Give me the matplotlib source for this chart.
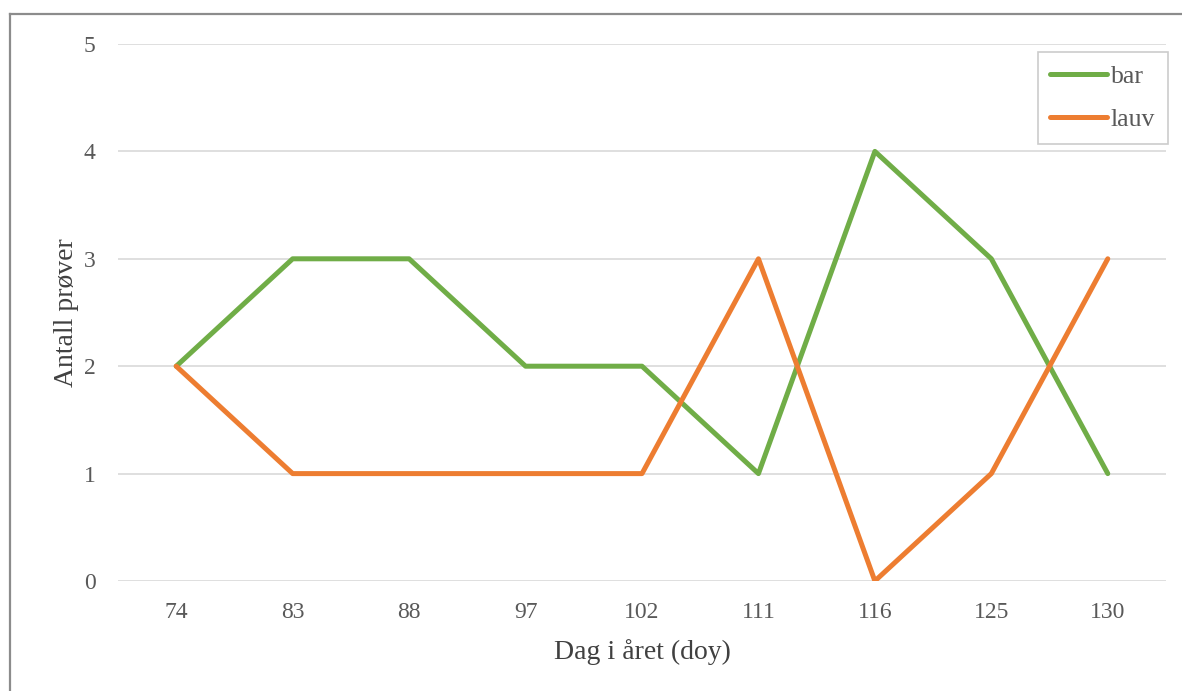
import matplotlib.pyplot as plt
from matplotlib.lines import Line2D

plt.rcParams['font.family'] = ['Liberation Serif', 'DejaVu Serif']

doy = ['74', '83', '88', '97', '102', '111', '116', '125', '130']
bar = [2, 3, 3, 2, 2, 1, 4, 3, 1]
lauv = [2, 1, 1, 1, 1, 3, 0, 1, 3]

W, H = 1182, 691
fig = plt.figure(figsize=(W / 100, H / 100), dpi=100)
ax = fig.add_axes([118 / W, 110 / H, (1166 - 118) / W, (581 - 44) / H])

x = range(len(doy))
ax.plot(x, bar, color='#70ad47', lw=3.6, label='bar', solid_joinstyle='round', solid_capstyle='round')
ax.plot(x, lauv, color='#ed7d31', lw=3.6, label='lauv', solid_joinstyle='round', solid_capstyle='round')

ax.set_xlim(-0.5, len(doy) - 0.5)
ax.set_ylim(0, 5)
ax.set_xticks(list(x))
ax.set_xticklabels(doy)
ax.set_yticks(range(6))
ax.grid(axis='y', color='#d9d9d9', lw=1.2)
ax.set_axisbelow(True)
for s in ax.spines.values():
    s.set_visible(False)
ax.tick_params(length=0, labelsize=17, colors='#595959')
ax.tick_params(axis='x', pad=15)
ax.tick_params(axis='y', pad=16)

ax.set_xlabel('Dag i året (doy)', fontsize=20, color='#404040', labelpad=12)
ax.set_ylabel('Antall prøver', fontsize=20, color='#404040')
ax.yaxis.set_label_coords(-0.037, 0.5)

leg = ax.legend(loc='upper right', bbox_to_anchor=(1.002, 0.985), borderaxespad=0,
                fontsize=18.5, frameon=True, fancybox=False, edgecolor='#bfbfbf',
                handlelength=2.2, handletextpad=0.15, labelspacing=0.8, borderpad=0.5)
leg.get_frame().set_linewidth(1.2)
for t in leg.get_texts():
    t.set_color('#595959')

# outer frame along left and top edges
fig.add_artist(Line2D([10 / W, 10 / W], [0, 1 - 14 / H], transform=fig.transFigure, color='#8c8c8c', lw=1.6))
fig.add_artist(Line2D([10 / W, 1], [1 - 14 / H, 1 - 14 / H], transform=fig.transFigure, color='#8c8c8c', lw=1.6))

fig.savefig('out.png', dpi=100)
